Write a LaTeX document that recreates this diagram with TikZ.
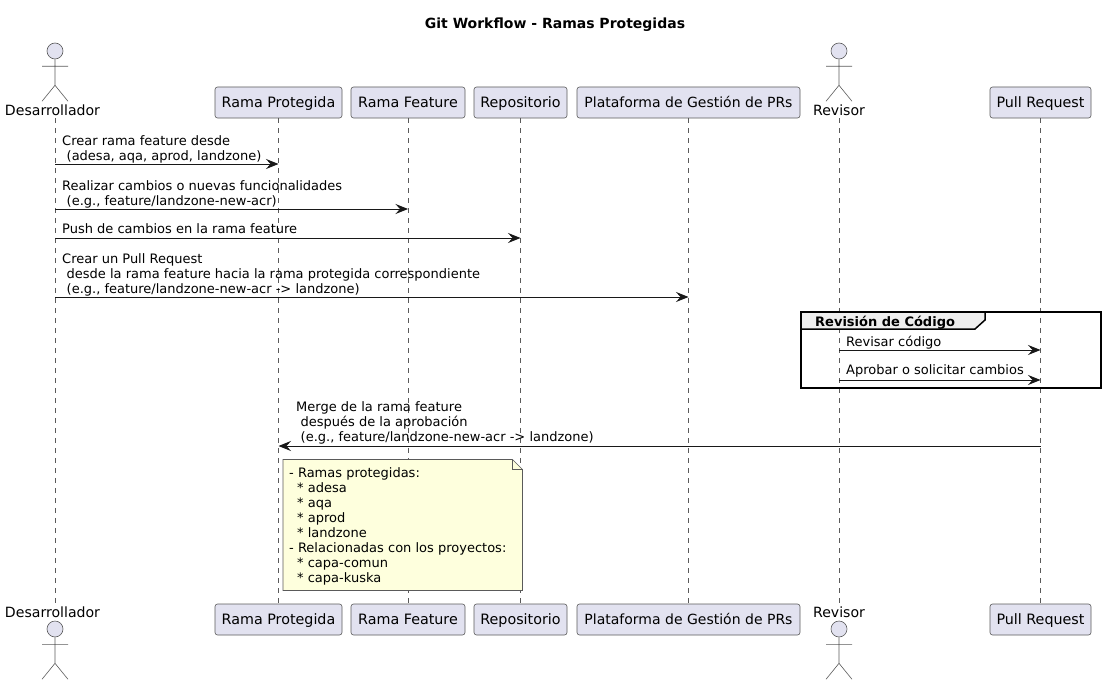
\documentclass[tikz,border=0pt]{standalone}
\usepackage{fontspec}
\setmainfont{DejaVu Sans}
\usetikzlibrary{arrows.meta,calc}
\definecolor{partfill}{HTML}{E2E2F0}
\definecolor{ink}{HTML}{181818}
\definecolor{thin}{HTML}{5A5A5A}
\definecolor{notefill}{HTML}{FEFFDD}
\definecolor{tabfill}{HTML}{EEEEEE}
\tikzset{
  x=1pt,y=-1pt,
  part/.style={draw=thin,fill=partfill,line width=.6pt,rounded corners=2.5pt,minimum height=31pt,inner sep=0pt,text height=12pt,text depth=2.5pt,font=\fontsize{14.3}{16}\selectfont,text=black},
  actorlabel/.style={inner sep=0pt,minimum height=16pt,font=\fontsize{14.1}{16}\selectfont,text=black},
  head/.style={circle,draw=thin,fill=partfill,line width=.6pt,minimum size=16pt,inner sep=0pt},
  limb/.style={draw=thin,line width=.6pt},
  life/.style={draw=thin,line width=.6pt,dash pattern=on 5pt off 5pt},
  msg/.style={draw=ink,line width=1pt,-{Stealth[length=12.5pt,width=10pt,inset=4.5pt]}},
  msgtext/.style={anchor=south west,inner sep=0pt,align=left,font=\fontsize{13}{15}\selectfont,text=black},
  title/.style={inner sep=0pt,font=\bfseries\fontsize{14}{16}\selectfont,text=black},
  frameline/.style={draw=black,line width=1.5pt},
}
\begin{document}
\begin{tikzpicture}
\useasboundingbox (0,0) rectangle (1106,685);
\node[title] (ttl) at (555,24.5) {Git Workflow - Ramas Protegidas};

% actor figures and labels
\node[head] (h1) at (55,51) {};
\node[head] (h2) at (839,51) {};
\node[head] (h3) at (55,629) {};
\node[head] (h4) at (839,629) {};
\node[actorlabel] (dev) at (52.5,110) {Desarrollador};
\node[actorlabel] (rev) at (839,110) {Revisor};
\node[actorlabel] (devb) at (52.5,612) {Desarrollador};
\node[actorlabel] (revb) at (839,612) {Revisor};

% participants, top and bottom
\node[part,minimum width=127pt] (rp) at (278.5,102.5) {Rama Protegida};
\node[part,minimum width=114pt] (rf) at (408,102.5) {Rama Feature};
\node[part,minimum width=93pt] (re) at (520.5,102.5) {Repositorio};
\node[part,minimum width=223pt,font=\fontsize{14}{16}\selectfont] (pl) at (688.5,102.5) {Plataforma de Gestión de PRs};
\node[part,minimum width=101pt] (pr) at (1040.5,102.5) {Pull Request};
\node[part,minimum width=127pt] (rpb) at (278.5,619.5) {Rama Protegida};
\node[part,minimum width=114pt] (rfb) at (408,619.5) {Rama Feature};
\node[part,minimum width=93pt] (reb) at (520.5,619.5) {Repositorio};
\node[part,minimum width=223pt,font=\fontsize{14}{16}\selectfont] (plb) at (688.5,619.5) {Plataforma de Gestión de PRs};
\node[part,minimum width=101pt] (prb) at (1040.5,619.5) {Pull Request};

% lifelines
\draw[life] (h1 |- dev.south) -- (h1 |- devb.north);
\draw[life] (rev.south) -- (revb.north);
\draw[life] (rp.south) -- (rpb.north);
\draw[life] (rf.south) -- (rfb.north);
\draw[life] (re.south) -- (reb.north);
\draw[life] (pl.south) -- (plb.north);
\draw[life] (pr.south) -- (prb.north);

% actor limbs
\foreach \h in {h1,h2,h3,h4}{
  \draw[limb] (\h.south) -- ++(0,26) coordinate (hip)
    -- ++(-13,16) (hip) -- ++(13,16)
    ($(\h.south)+(-13,7)$) -- ++(26,0);
}

% messages
\coordinate (m1) at (0,164);
\coordinate (m2) at (0,209);
\coordinate (m3) at (0,238);
\coordinate (m4) at (0,297);
\coordinate (m5) at (0,350);
\coordinate (m6) at (0,380);
\coordinate (m7) at (0,446);

\draw[msg] (h1 |- m1) -- (rp |- m1);
\draw[msg] (h1 |- m2) -- (rf |- m2);
\draw[msg] (h1 |- m3) -- (re |- m3);
\draw[msg] (h1 |- m4) -- (pl |- m4);

\node[msgtext] (t1) at (62,163) {Crear rama feature desde\\\hspace*{4.5pt}(adesa, aqa, aprod, landzone)};
\node[msgtext] (t2) at (62,208) {Realizar cambios o nuevas funcionalidades\\\hspace*{4.5pt}(e.g., feature/landzone-new-acr)};
\node[msgtext] (t3) at (62,235.5) {Push de cambios en la rama feature\vphantom{(}};
\node[msgtext] (t4) at (62,296) {Crear un Pull Request\\\hspace*{4.5pt}desde la rama feature hacia la rama protegida correspondiente\\\hspace*{4.5pt}(e.g., feature/landzone-new-acr -> landzone)};

% group
\draw[frameline,fill=tabfill] (801,312) -- (985,312) -- (985,320) -- (975,329) -- (801,329) -- cycle;
\draw[frameline] (801,312) rectangle (1101,388);
\node[title,anchor=base west,font=\bfseries\fontsize{13.0}{16}\selectfont] (gt) at (815,326) {Revisión de Código};
\draw[msg] (rev |- m5) -- (pr |- m5);
\draw[msg] (rev |- m6) -- (pr |- m6);
\node[msgtext] (t5) at (846,349) {Revisar código};
\node[msgtext] (t6) at (846,377.5) {Aprobar o solicitar cambios};

% merge
\draw[msg] (pr |- m7) -- (rp |- m7);
\node[msgtext] (t7) at (296,444.5) {Merge de la rama feature\\\hspace*{4.5pt}después de la aprobación\\\hspace*{4.5pt}(e.g., feature/landzone-new-acr -> landzone)};

% note
\draw[draw=thin,fill=notefill,line width=.6pt] (283,459.5) -- (512.5,459.5) -- (522.5,469.5) -- (522.5,590.5) -- (283,590.5) -- cycle;
\draw[draw=thin,line width=.6pt] (512.5,459.5) -- (512.5,469.5) -- (522.5,469.5);
\node[msgtext,anchor=north west] (nt) at (289,467) {- Ramas protegidas:\\\hspace*{8pt}* adesa\\\hspace*{8pt}* aqa\\\hspace*{8pt}* aprod\\\hspace*{8pt}* landzone\\- Relacionadas con los proyectos:\\\hspace*{8pt}* capa-comun\\\hspace*{8pt}* capa-kuska};
\end{tikzpicture}
\end{document}
